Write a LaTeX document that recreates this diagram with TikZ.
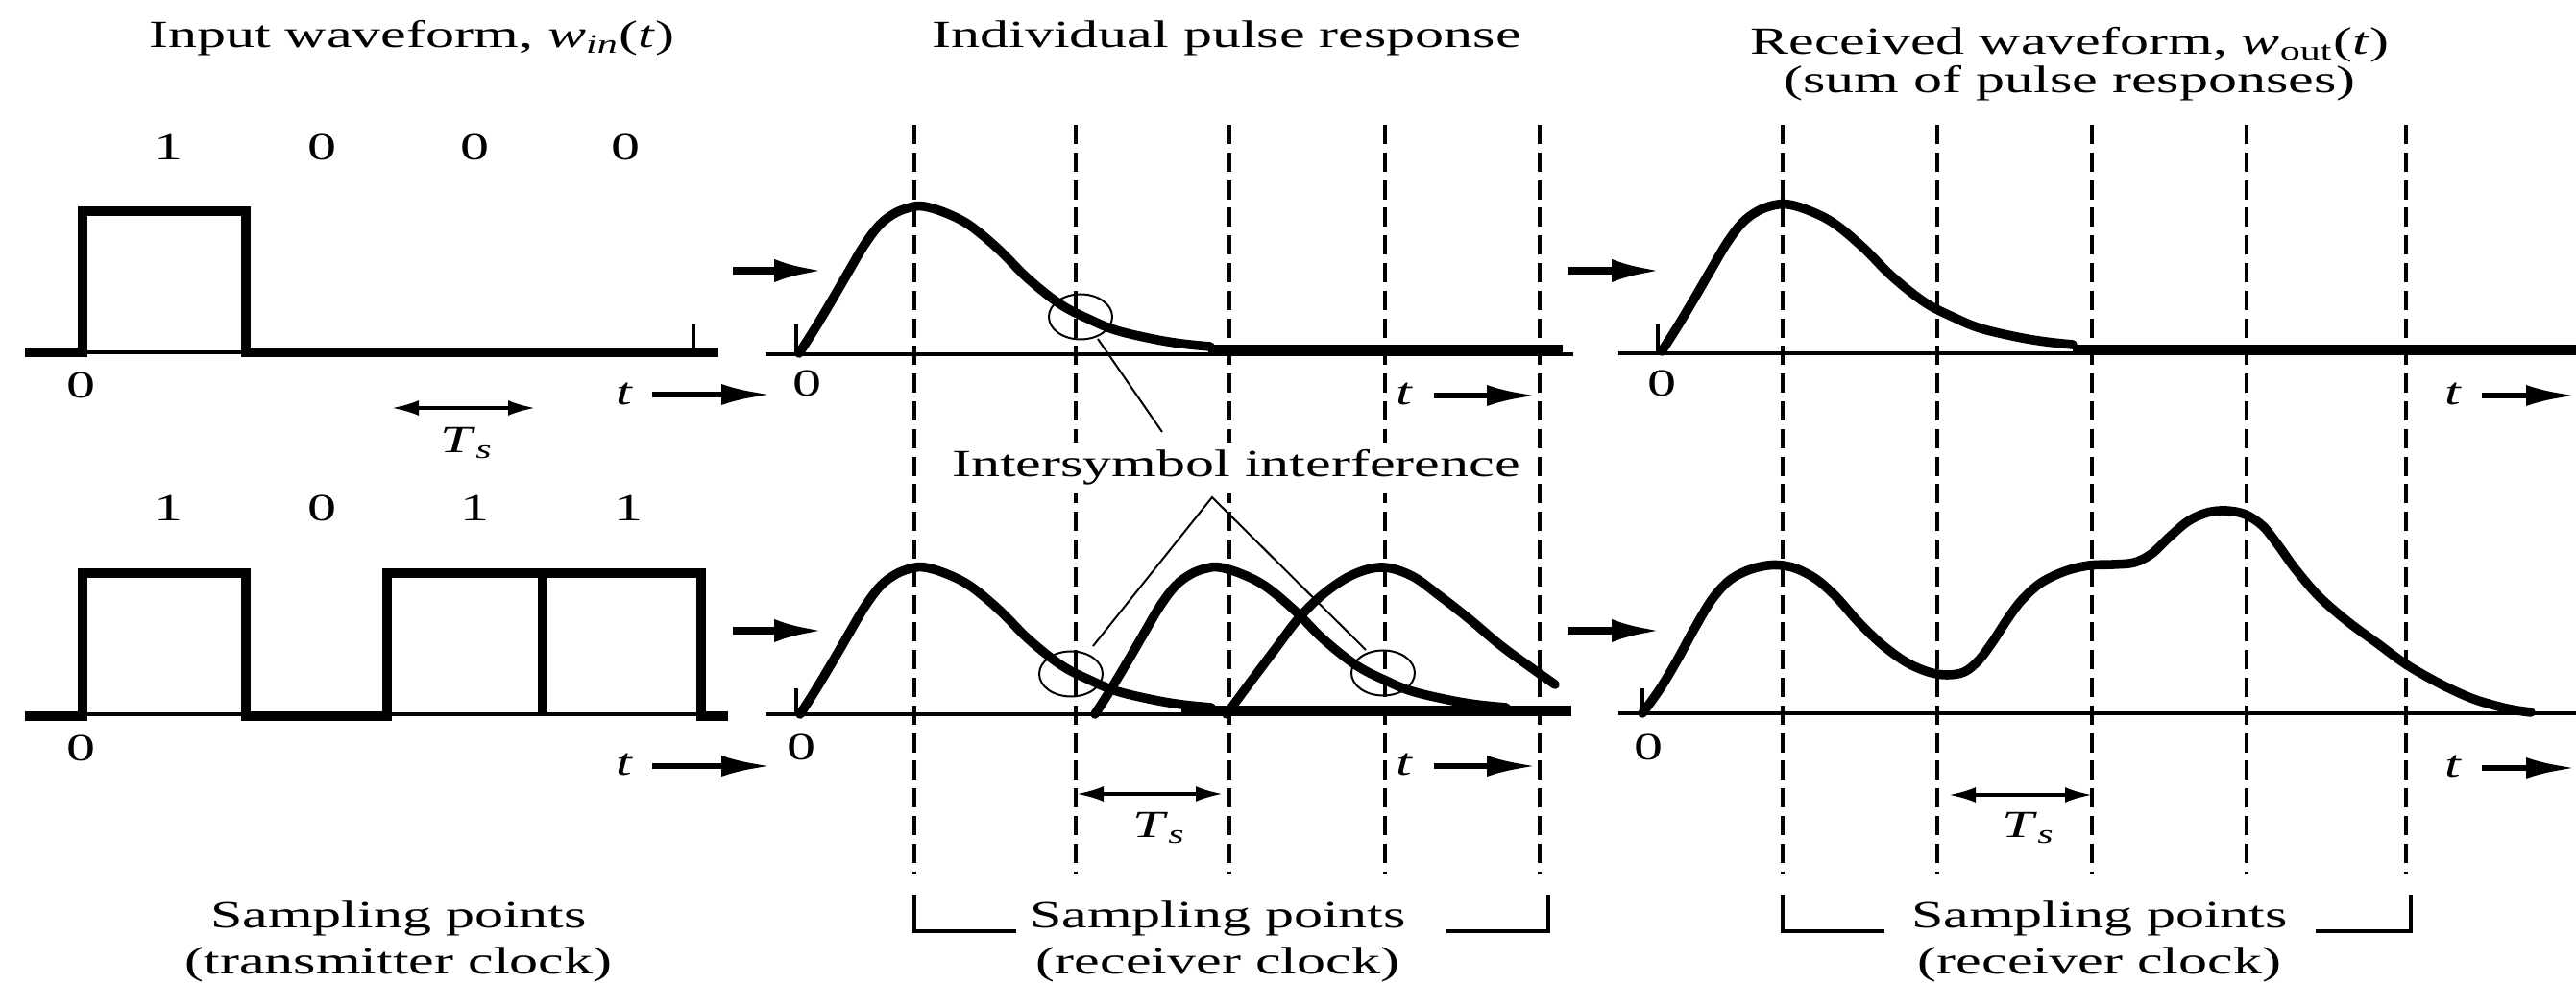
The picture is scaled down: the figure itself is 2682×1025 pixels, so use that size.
\documentclass[tikz,border=0pt]{standalone}
\usepackage{fontspec}
\setmainfont{Liberation Serif}[FakeStretch=1.5]
\usetikzlibrary{arrows.meta,shapes.geometric}
\begin{document}
\begin{tikzpicture}[x=0.25pt,y=-0.25pt,
  lbl/.style={font=\fontsize{10}{12}\selectfont, inner sep=0pt, anchor=base},
  wave/.style={line width=2.5pt, line join=miter},
  curve/.style={line width=2.4pt, line cap=round, line join=round},
  axisline/.style={line width=0.8pt},
  thinline/.style={line width=1pt},
  samp/.style={dash pattern=on 5pt off 2.2pt, line width=0.9pt},
  bigarrow/.style={line width=1.9pt, -{Latex[length=13pt,width=6pt]}},
  tarrow/.style={line width=1.5pt, -{Latex[length=13pt,width=5.5pt]}},
  tsarrow/.style={line width=0.8pt, {Latex[length=7pt,width=4pt]}-{Latex[length=7pt,width=4pt]}},
  leader/.style={line width=0.5pt},
  isi/.style={draw, ellipse, line width=0.5pt, minimum width=16.5pt, minimum height=11.75pt, inner sep=0pt},
  bracket/.style={line width=0.8pt},
  pulse/.style={curve}
]
\useasboundingbox (0,0) rectangle (2682,1025);

% ---------------- titles ----------------
\node[lbl] (title1) at (429,50) {Input waveform, \textit{w}\textsubscript{\textit{in}}(\textit{t})};
\node[lbl] (title2) at (1277,50) {Individual pulse response};
\node[lbl] (title3) at (2155,57) {Received waveform, \textit{w}\textsubscript{out}(\textit{t})};
\node[lbl] (title3b) at (2155,97) {(sum of pulse responses)};

% ---------------- bits ----------------
\node[lbl] (b11) at (175,167) {1};
\node[lbl] (b12) at (335,167) {0};
\node[lbl] (b13) at (494,167) {0};
\node[lbl] (b14) at (651,167) {0};
\node[lbl] (b21) at (175,543) {1};
\node[lbl] (b22) at (335,543) {0};
\node[lbl] (b23) at (494,543) {1};
\node[lbl] (b24) at (654,543) {1};

% ---------------- sampling dashed lines ----------------
\foreach \xx in {952,1120,1280,1442,1603,1856,2017,2178,2339,2505}
  \draw[samp] (\xx,130) -- (\xx,910);

% ---------------- left panel waveforms ----------------
\draw[wave] (26,367) -- (86,367) -- (86,220) -- (256,220) -- (256,367) -- (748,367);
\draw[thinline] (86,367) -- (256,367);
\draw[thinline] (722,338) -- (722,367);

\draw[thinline] (86,744) -- (730,744);
\draw[wave] (26,746) -- (86,746) -- (86,597) -- (256,597) -- (256,746) -- (403,746)
  -- (403,597) -- (730,597) -- (730,746) -- (758,746);
\draw[wave] (565,597) -- (565,746);

% ---------------- middle panel ----------------
\draw[axisline] (797,369) -- (1638,369);
\draw[axisline] (829,338) -- (829,369);
\draw[axisline] (797,744) -- (1636,744);
\draw[axisline] (829,717) -- (829,744);

% top single pulse
\draw[pulse, shift={(832,368)}] plot[smooth, tension=0.6] coordinates {(0,0) (16,-25) (34,-55) (52,-86) (68,-113) (84,-134) (100,-146) (116,-152) (130,-153) (153,-146) (178,-133) (208,-108) (238,-78) (272,-51) (303,-35) (330,-24) (368,-15) (398,-10) (428,-7)};
\draw[wave] (1258,364) -- (1627,364);

% bottom: three pulses
\draw[pulse, shift={(833,744)}] plot[smooth, tension=0.6] coordinates {(0,0) (16,-25) (34,-55) (52,-86) (68,-113) (84,-134) (100,-146) (116,-152) (130,-153) (153,-146) (178,-133) (208,-108) (238,-78) (272,-51) (303,-35) (330,-24) (368,-15) (398,-10) (428,-7)};
\draw[pulse, shift={(1140,744)}] plot[smooth, tension=0.6] coordinates {(0,0) (16,-25) (34,-55) (52,-86) (68,-113) (84,-134) (100,-146) (116,-152) (130,-153) (153,-146) (178,-133) (208,-108) (238,-78) (272,-51) (303,-35) (330,-24) (368,-15) (398,-10) (428,-7)};
\draw[pulse] plot[smooth, tension=0.6] coordinates {(1277,744) (1300,713) (1327,677) (1353,643) (1380,617) (1410,598) (1440,591) (1470,600) (1498,620) (1530,645) (1562,672) (1592,694) (1619,713)};
\draw[wave] (1230,740) -- (1636,740);

% ISI markers
\node[isi] (isiA) at (1125,330) {};
\node[isi] (isiB) at (1115,702) {};
\node[isi] (isiC) at (1440,701) {};
\node[lbl, fill=white, inner sep=2pt] (isitext) at (1287,497) {Intersymbol interference};
\coordinate (isiAend) at (1143,353);
\coordinate (isiAtext) at (1210,450);
\coordinate (apex) at (1262,518);
\coordinate (isiBend) at (1138,673);
\coordinate (isiCend) at (1422,677);
\draw[leader] (isiAend) -- (isiAtext);
\draw[leader] (isiBend) -- (apex) -- (isiCend);

% ---------------- right panel ----------------
\draw[axisline] (1685,368) -- (2682,368);
\draw[axisline] (1726,338) -- (1726,368);
\draw[axisline] (1685,743) -- (2682,743);
\draw[axisline] (1710,717) -- (1710,743);

\draw[pulse, shift={(1730,366)}] plot[smooth, tension=0.6] coordinates {(0,0) (16,-25) (34,-55) (52,-86) (68,-113) (84,-134) (100,-146) (116,-152) (132,-153) (155,-146) (180,-133) (210,-108) (240,-78) (274,-51) (305,-35) (332,-24) (370,-15) (400,-10) (428,-7)};
\draw[wave] (2158,364) -- (2682,364);

\draw[pulse] plot[smooth, tension=0.55] coordinates {(1710,743) (1728,718) (1746,688) (1764,655) (1782,625) (1800,605) (1820,594) (1840,589) (1856,589) (1872,593) (1892,604) (1912,622) (1935,648) (1960,672) (1985,690) (2008,700) (2027,703) (2045,700) (2060,688) (2075,668) (2090,645) (2105,625) (2125,607) (2150,595) (2175,589) (2200,588) (2222,586) (2240,577) (2258,560) (2278,543) (2298,534) (2318,532) (2338,536) (2356,548) (2372,568) (2390,593) (2415,622) (2445,648) (2475,670) (2505,692) (2540,712) (2575,728) (2610,738) (2635,742)};

% ---------------- axis labels ----------------
\node[lbl] (zL1) at (84,415) {0};
\node[lbl] (zL2) at (84,793) {0};
\node[lbl] (zM1) at (840,413) {0};
\node[lbl] (zM2) at (834,792) {0};
\node[lbl] (zR1) at (1730,413) {0};
\node[lbl] (zR2) at (1716,792) {0};

\node[lbl] (tL1) at (650,422) {\textit{t}};
\node[lbl] (tL2) at (650,808) {\textit{t}};
\node[lbl] (tM1) at (1462,422) {\textit{t}};
\node[lbl] (tM2) at (1462,808) {\textit{t}};
\node[lbl] (tR1) at (2554,422) {\textit{t}};
\node[lbl] (tR2) at (2554,810) {\textit{t}};

\coordinate (tL1s) at (679,411); \coordinate (tL1e) at (803,411);
\coordinate (tL2s) at (679,798); \coordinate (tL2e) at (803,798);
\coordinate (tM1s) at (1493,412); \coordinate (tM1e) at (1600,412);
\coordinate (tM2s) at (1493,798); \coordinate (tM2e) at (1600,798);
\coordinate (tR1s) at (2584,412); \coordinate (tR1e) at (2682,412);
\coordinate (tR2s) at (2584,800); \coordinate (tR2e) at (2682,800);
\draw[tarrow] (tL1s) -- (tL1e);
\draw[tarrow] (tL2s) -- (tL2e);
\draw[tarrow] (tM1s) -- (tM1e);
\draw[tarrow] (tM2s) -- (tM2e);
\draw[tarrow] (tR1s) -- (tR1e);
\draw[tarrow] (tR2s) -- (tR2e);

% ---------------- arrows between panels ----------------
\coordinate (p1s) at (763,282); \coordinate (p1e) at (858,282);
\coordinate (p2s) at (763,657); \coordinate (p2e) at (858,657);
\coordinate (p3s) at (1633,282); \coordinate (p3e) at (1730,282);
\coordinate (p4s) at (1633,657); \coordinate (p4e) at (1730,657);
\draw[bigarrow] (p1s) -- (p1e);
\draw[bigarrow] (p2s) -- (p2e);
\draw[bigarrow] (p3s) -- (p3e);
\draw[bigarrow] (p4s) -- (p4e);

% ---------------- Ts markers ----------------
\coordinate (ts1s) at (408,425); \coordinate (ts1e) at (557,425);
\coordinate (ts2s) at (1121,827); \coordinate (ts2e) at (1273,827);
\coordinate (ts3s) at (2029,828); \coordinate (ts3e) at (2178,828);
\draw[tsarrow] (ts1s) -- (ts1e);
\draw[tsarrow] (ts2s) -- (ts2e);
\draw[tsarrow] (ts3s) -- (ts3e);
\node[lbl] (ts1) at (486,472) {\textit{T}\textsubscript{\textit{s}}};
\node[lbl] (ts2) at (1207,873) {\textit{T}\textsubscript{\textit{s}}};
\node[lbl] (ts3) at (2112,873) {\textit{T}\textsubscript{\textit{s}}};

% ---------------- sampling point captions ----------------
\node[lbl] (sL1) at (415,967) {Sampling points};
\node[lbl] (sL2) at (415,1015) {(transmitter clock)};
\node[lbl] (sM1) at (1268,967) {Sampling points};
\node[lbl] (sM2) at (1268,1015) {(receiver clock)};
\node[lbl] (sR1) at (2186,967) {Sampling points};
\node[lbl] (sR2) at (2186,1015) {(receiver clock)};

\draw[bracket] (1058,970) -- (952,970) -- (952,932);
\draw[bracket] (1506,970) -- (1612,970) -- (1612,932);
\draw[bracket] (1962,970) -- (1856,970) -- (1856,932);
\draw[bracket] (2411,970) -- (2510,970) -- (2510,932);
\end{tikzpicture}
\end{document}
